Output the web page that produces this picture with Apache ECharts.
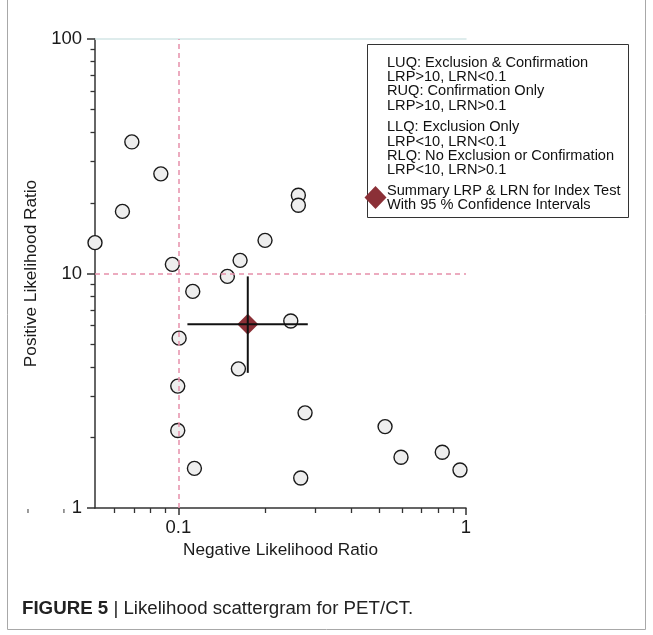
<!DOCTYPE html>
<html><head><meta charset="utf-8">
<script src="https://cdn.jsdelivr.net/npm/echarts@6/dist/echarts.min.js"></script>
<style>html,body{margin:0;padding:0;background:#fff}#c{width:653px;height:635px}</style>
</head><body><div id="c"></div>
<script>
// ---- data ----
const studyLRN = [0.0513, 0.0689, 0.0869, 0.0639, 0.0953, 0.1639, 0.2001, 0.148, 0.1122, 0.1006, 0.1617, 0.2459, 0.0995, 0.2613, 0.2613, 0.0995, 0.1137, 0.2757, 0.5231, 0.2663, 0.5943, 0.827, 0.953];
const studyLRP = [13.54, 36.4, 26.6, 18.4, 10.94, 11.38, 13.85, 9.72, 8.39, 5.30, 3.92, 6.27, 3.31, 21.57, 19.55, 2.14, 1.476, 2.545, 2.224, 1.343, 1.645, 1.728, 1.453];
const summaryLRN = 0.1743;
const summaryLRP = 6.07;
const summaryLRN_CI = [0.1075, 0.2818];
const summaryLRP_CI = [3.77, 9.72];
const refLRN = 0.1;
const refLRP = 10;
const xMin = 0.0513, xMax = 1;
const yMin = 1, yMax = 100;
const xMajorTicks = [0.1, 1];
const xMinorTicks = [0.06, 0.07, 0.08, 0.09, 0.2, 0.3, 0.4, 0.5, 0.6, 0.7, 0.8, 0.9];
const xOutsideTicks = [0.03, 0.04];
const yMajorTicks = [1, 10, 100];
const yMinorTicks = [2, 3, 4, 5, 6, 7, 8, 9, 20, 30, 40, 50, 60, 70, 80, 90];
const legendBlock1 = ['LUQ: Exclusion & Confirmation', 'LRP>10, LRN<0.1', 'RUQ: Confirmation Only', 'LRP>10, LRN>0.1'];
const legendBlock2 = ['LLQ: Exclusion Only', 'LRP<10, LRN<0.1', 'RLQ: No Exclusion or Confirmation', 'LRP<10, LRN>0.1'];
const legendBlock3 = ['Summary LRP & LRN for Index Test', 'With 95 % Confidence Intervals'];
const xName = 'Negative Likelihood Ratio';
const yName = 'Positive Likelihood Ratio';

const FONT = '"Liberation Sans", Arial, sans-serif';
const chart = echarts.init(document.getElementById('c'), null, {renderer: 'canvas'});
const fmt = v => v >= 1 ? String(Math.round(v)) : String(+v.toPrecision(3));
const axisColor = '#333';

const option = {
  animation: false,
  backgroundColor: '#fff',
  grid: {left: 95, right: 187, top: 39, bottom: 127, containLabel: false},
  xAxis: [
    {type: 'log', logBase: 10, min: xMin, max: xMax, position: 'bottom',
     axisLine: {show: true, lineStyle: {color: axisColor, width: 1.5}},
     axisTick: {show: true, customValues: xMajorTicks, length: 7, lineStyle: {color: axisColor, width: 1.5}},
     axisLabel: {show: true, customValues: xMajorTicks, formatter: fmt, fontSize: 18.5, color: '#1a1a1a', margin: 10, fontFamily: FONT},
     splitLine: {show: false},
     name: xName, nameLocation: 'middle', nameGap: 30,
     nameTextStyle: {fontSize: 17.2, color: '#1a1a1a', fontFamily: FONT}},
    {type: 'log', logBase: 10, min: xMin, max: xMax, position: 'bottom',
     axisLine: {show: false},
     axisTick: {show: true, customValues: xMinorTicks, length: 5, lineStyle: {color: axisColor, width: 1.3}},
     axisLabel: {show: false}, splitLine: {show: false}},
    {type: 'log', logBase: 10, min: xMin, max: xMax, position: 'top',
     axisLine: {show: true, lineStyle: {color: '#d3e6e6', width: 1.5}},
     axisTick: {show: false}, axisLabel: {show: false}, splitLine: {show: false}}
  ],
  yAxis: [
    {type: 'log', logBase: 10, min: yMin, max: yMax, position: 'left',
     axisLine: {show: true, lineStyle: {color: axisColor, width: 1.5}},
     axisTick: {show: true, customValues: yMajorTicks, length: 8, lineStyle: {color: axisColor, width: 1.5}},
     axisLabel: {show: true, customValues: yMajorTicks, formatter: fmt, fontSize: 18.5, color: '#1a1a1a', margin: 13, fontFamily: FONT},
     splitLine: {show: false},
     name: yName, nameLocation: 'middle', nameGap: 54,
     nameTextStyle: {fontSize: 17.2, color: '#1a1a1a', fontFamily: FONT}},
    {type: 'log', logBase: 10, min: yMin, max: yMax, position: 'left',
     axisLine: {show: false},
     axisTick: {show: true, customValues: yMinorTicks, length: 4.5, lineStyle: {color: axisColor, width: 1.3}},
     axisLabel: {show: false}, splitLine: {show: false}}
  ],
  series: [
    {type: 'line', name: 'ref', data: [], z: 1, silent: true,
     markLine: {silent: true, symbol: 'none', label: {show: false},
       lineStyle: {color: '#e690ab', type: [5, 4], width: 1.5},
       data: [{xAxis: refLRN}, {yAxis: refLRP}]}},
    {type: 'scatter', name: 'studies', z: 3,
     data: studyLRN.map((x, i) => [x, studyLRP[i]]),
     symbol: 'circle', symbolSize: 14,
     itemStyle: {color: '#eeeeee', borderColor: '#1a1a1a', borderWidth: 1.4, opacity: 1}},
    {type: 'scatter', name: 'summary', z: 4,
     data: [[summaryLRN, summaryLRP]],
     symbol: 'diamond', symbolSize: [21, 21],
     itemStyle: {color: '#8b3037', opacity: 1}},
    {type: 'line', name: 'ciX', z: 5, showSymbol: false, symbol: 'none',
     data: [[summaryLRN_CI[0], summaryLRP], [summaryLRN_CI[1], summaryLRP]],
     lineStyle: {color: '#111', width: 2}},
    {type: 'line', name: 'ciY', z: 5, showSymbol: false, symbol: 'none',
     data: [[summaryLRN, summaryLRP_CI[0]], [summaryLRN, summaryLRP_CI[1]]],
     lineStyle: {color: '#111', width: 2}},
    {type: 'custom', name: 'outsideTicks', z: 2, clip: false, silent: true,
     data: xOutsideTicks.map(v => [v, yMin]),
     renderItem: (params, api) => {
       const p = api.coord([api.value(0), api.value(1)]);
       return {type: 'line', shape: {x1: p[0], y1: p[1] + 1, x2: p[0], y2: p[1] + 5},
               style: {stroke: '#666', lineWidth: 1.3}};
     }}
  ],
  graphic: [
    {type: 'rect', z: 100, silent: true, shape: {x: 7.5, y: -1, width: 638, height: 630.5},
     style: {fill: 'none', stroke: '#a8a8a8', lineWidth: 1}},
    {type: 'rect', z: 100, silent: true, shape: {x: 367.5, y: 44.5, width: 261, height: 173},
     style: {fill: '#fff', stroke: '#333', lineWidth: 1}},
    {type: 'text', z: 101, silent: true,
     style: {x: 387, y: 55.5, text: legendBlock1.join('\n'), fontSize: 14.6, fontFamily: FONT, lineHeight: 14.3, fill: '#111', verticalAlign: 'top'}},
    {type: 'text', z: 101, silent: true,
     style: {x: 387, y: 120.2, text: legendBlock2.join('\n'), fontSize: 14.6, fontFamily: FONT, lineHeight: 14.3, fill: '#111', verticalAlign: 'top'}},
    {type: 'text', z: 101, silent: true,
     style: {x: 387, y: 183.6, text: legendBlock3.join('\n'), fontSize: 14.6, fontFamily: FONT, lineHeight: 14.3, fill: '#111', verticalAlign: 'top'}},
    {type: 'polygon', z: 101, silent: true,
     shape: {points: [[375.5, 186], [386.5, 197.5], [375.5, 209], [364.5, 197.5]]},
     style: {fill: '#8b3037'}},
    {type: 'text', z: 101, silent: true,
     style: {x: 22, y: 599, text: '{b|FIGURE 5} | Likelihood scattergram for PET/CT.',
       fontSize: 18.7, fontFamily: FONT, fill: '#222', verticalAlign: 'top',
       rich: {b: {fontWeight: 'bold', fontSize: 18.7, fontFamily: FONT, fill: '#222'}}}}
  ]
};
chart.setOption(option);
</script>
</body></html>
